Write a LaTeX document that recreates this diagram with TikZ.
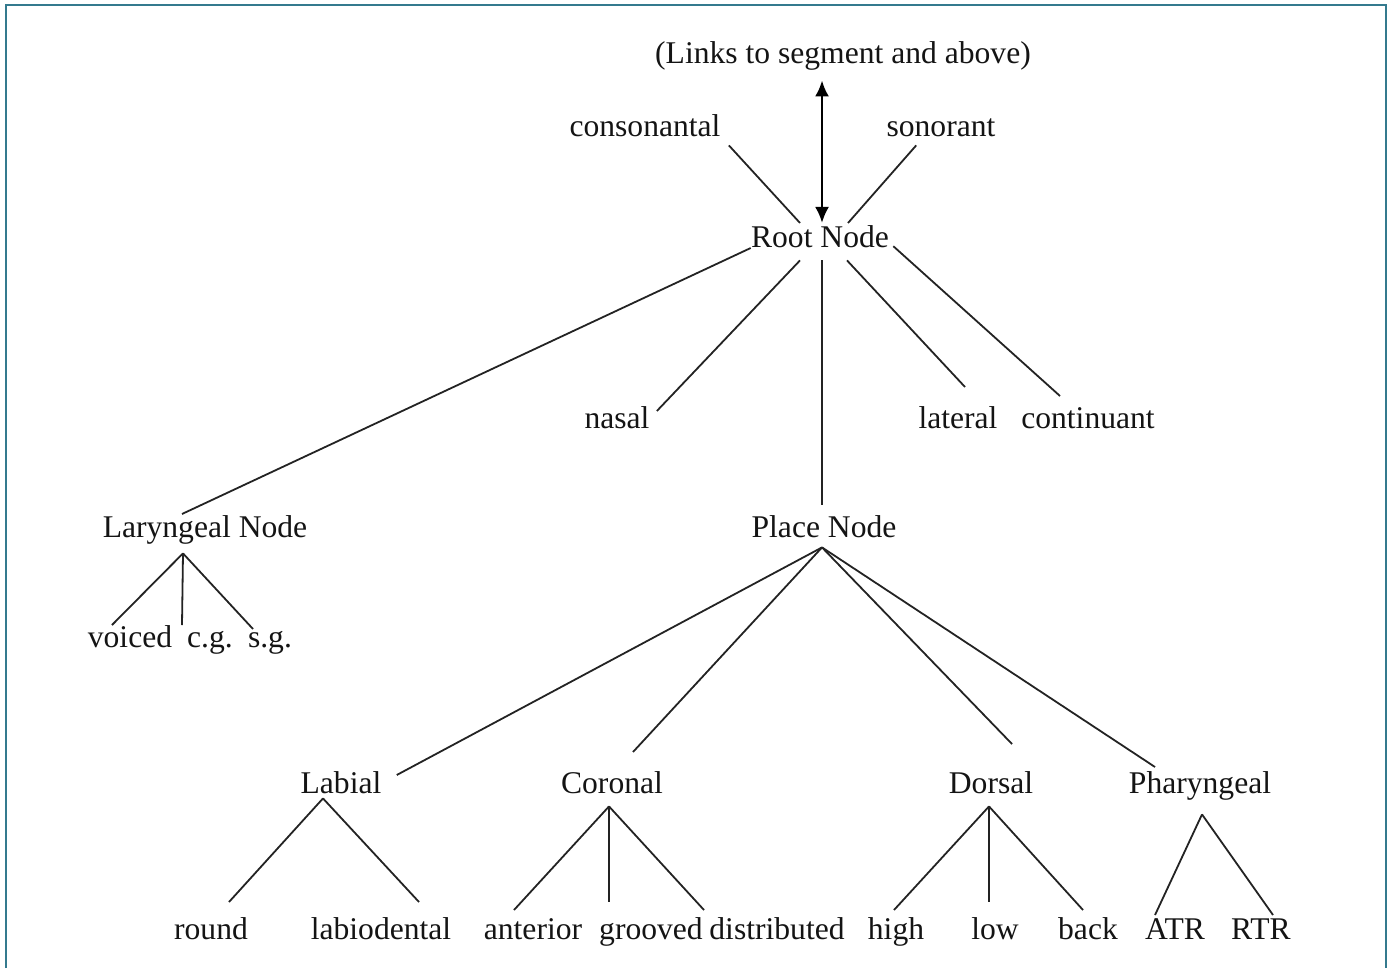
\documentclass[tikz,border=0pt]{standalone}
\usepackage{fontspec}
\setmainfont{Liberation Serif}
\usepackage{tikz}
\usetikzlibrary{arrows.meta, positioning, calc}
\usepackage{xcolor}
\definecolor{framecol}{RGB}{52,122,142}
\definecolor{linecol}{RGB}{35,35,35}
\definecolor{textcol}{RGB}{20,20,20}

\begin{document}
\begin{tikzpicture}[
    x=0.5pt, y=-0.5pt,
    feat/.style={inner sep=0pt, anchor=base, text height=0.68em, text depth=0.2em, font=\fontsize{15.8}{19}\selectfont, text=textcol},
    branch/.style={line width=0.9pt, linecol},
    link/.style={{Latex[length=8pt,width=7pt]}-{Latex[length=8pt,width=7pt]}, line width=1.3pt, black}
]
\useasboundingbox (0,0) rectangle (1390,968);

% === Frame (open at the bottom) ===
\draw[framecol, line width=1pt] (5.5,968) -- (5.5,5.5) -- (1386,5.5) -- (1386,968);

% === Top of the tree ===
\node[feat] (links) at (843,64) {(Links to segment and above)};
\node[feat] (cons) at (645,137) {consonantal};
\node[feat] (son) at (941,137) {sonorant};
\node[feat] (root) at (820,247) {Root Node};

% === Dependents of the root ===
\node[feat] (nasal) at (617,428) {nasal};
\node[feat] (lat) at (958,428) {lateral};
\node[feat] (cont) at (1088,428) {continuant};
\node[feat] (lary) at (205,537) {Laryngeal Node};
\node[feat] (place) at (824,537) {Place Node};

% === Laryngeal features ===
\node[feat] (voiced) at (130,647) {voiced};
\node[feat] (cg) at (210,647) {c.g.};
\node[feat] (sg) at (270,647) {s.g.};

% === Articulators ===
\node[feat] (labial) at (341,793) {Labial};
\node[feat] (coronal) at (612,793) {Coronal};
\node[feat] (dorsal) at (991,793) {Dorsal};
\node[feat] (phar) at (1200,793) {Pharyngeal};

% === Terminal features ===
\node[feat] (round) at (211,939) {round};
\node[feat] (labiodent) at (381,939) {labiodental};
\node[feat] (ant) at (533,939) {anterior};
\node[feat] (groov) at (651,939) {grooved};
\node[feat] (distr) at (777,939) {distributed};
\node[feat] (high) at (896,939) {high};
\node[feat] (low) at (995,939) {low};
\node[feat] (back) at (1088,939) {back};
\node[feat] (atr) at (1175,939) {ATR};
\node[feat] (rtr) at (1261,939) {RTR};

% === Branch points ===
\coordinate (larytop) at ($(lary.south)+(-22,12)$);
\coordinate (placetop) at ($(place.south)+(-2,6)$);
\coordinate (labtop) at ($(labial.south)+(-18,1)$);
\coordinate (cortop) at ($(coronal.south)+(-3,9)$);
\coordinate (dortop) at ($(dorsal.south)+(-2,9)$);
\coordinate (phartop) at ($(phar.south)+(2,17)$);

% === Connectors ===
% Root to segment
\draw[link] ($(root.north)+(2,-10)$) -- ($(root.north |- links.south)+(2,12)$);

% Root features
\draw[branch] ($(cons.south east)+(8,4)$) -- ($(root.north)+(-20,-10)$);
\draw[branch] ($(son.south west)+(30,4)$) -- ($(root.north)+(28,-10)$);

% Root dependents
\draw[branch] ($(root.base west)+(0,1)$) -- ($(lary.north)+(-23,-9)$);
\draw[branch] ($(root.south)+(-20,9)$) -- ($(nasal.north east)+(7,-3)$);
\draw[branch] ($(root.south)+(2,9)$) -- ($(place.north)+(-2,-18)$);
\draw[branch] ($(root.south)+(27,9)$) -- ($(lat.north)+(7,-27)$);
\draw[branch] ($(root.east)+(4,4)$) -- ($(cont.north)+(-28,-18)$);

% Laryngeal node
\draw[branch] (larytop) -- ($(voiced.north)+(-18,-8)$);
\draw[branch] (larytop) -- ($(cg.north)+(-28,-8)$);
\draw[branch] (larytop) -- ($(sg.north)+(-17,-4)$);

% Place node
\draw[branch] (placetop) -- ($(labial.north east)+(15,-4)$);
\draw[branch] (placetop) -- ($(coronal.north)+(21,-27)$);
\draw[branch] (placetop) -- ($(dorsal.north)+(21,-35)$);
\draw[branch] (placetop) -- ($(phar.north)+(-45,-12)$);

% Labial
\draw[branch] (labtop) -- ($(round.north)+(18,-23)$);
\draw[branch] (labtop) -- ($(labiodent.north)+(38,-23)$);

% Coronal
\draw[branch] (cortop) -- ($(ant.north)+(-19,-15)$);
\draw[branch] (cortop) -- ($(groov.north)+(-42,-23)$);
\draw[branch] (cortop) -- ($(distr.north)+(-73,-15)$);

% Dorsal
\draw[branch] (dortop) -- ($(high.north)+(-2,-15)$);
\draw[branch] (dortop) -- ($(low.north)+(-6,-23)$);
\draw[branch] (dortop) -- ($(back.north)+(-5,-15)$);

% Pharyngeal
\draw[branch] (phartop) -- ($(atr.north)+(-20,-10)$);
\draw[branch] (phartop) -- ($(rtr.north)+(12,-10)$);

\end{tikzpicture}
\end{document}
